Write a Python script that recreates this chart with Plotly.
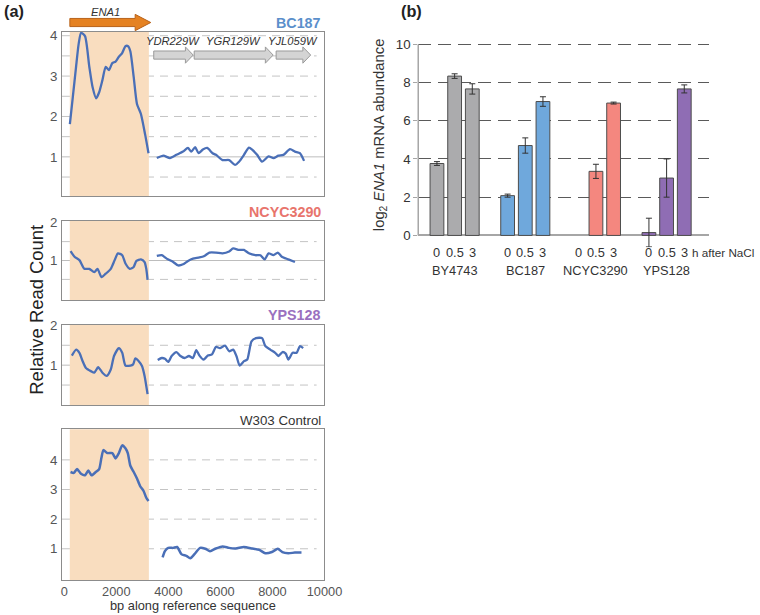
import plotly.graph_objects as go

W, H = 760, 615
FONT = "Liberation Sans, Arial, sans-serif"

# ---------------- Panel (a) data: relative read counts along reference ----------------
bc187_bp = [213, 326, 451, 554, 643, 795, 960, 1085, 1224, 1339, 1464, 1591, 1717, 1843, 1970,
            2096, 2222, 2349, 2451, 2539, 2666, 2792, 2944, 3107, 3236, None,
            3555, 3810, 4060, 4310, 4565, 4750, 4880, 5030, 5160, 5325, 5490, 5700, 5830, 6080,
            6335, 6560, 6715, 6905, 7095, 7220, 7410, 7600, 7850, 8040, 8230, 8420, 8675, 8865,
            9055, 9215]
bc187_val = [1.81, 2.48, 3.23, 3.81, 4.07, 3.99, 3.23, 2.73, 2.45, 2.60, 2.90, 3.23, 3.15, 3.32, 3.36,
             3.48, 3.57, 3.74, 3.74, 3.61, 2.98, 2.31, 2.06, 1.55, 1.09, None,
             0.97, 1.03, 0.97, 1.05, 1.13, 1.22, 1.13, 1.24, 1.09, 1.18, 1.22, 1.09, 1.05, 0.92,
             0.92, 0.80, 0.88, 1.05, 1.23, 1.18, 1.05, 0.88, 1.01, 0.97, 1.03, 1.05, 1.19, 1.13,
             1.09, 0.90]

ncyc_bp = [240, 392, 580, 770, 960, 1150, 1275, 1430, 1590, 1785, 1935, 2060, 2225, 2350, 2515,
           2665, 2770, 2945, 3085, 3150, 3200, None,
           3555, 3745, 3935, 4185, 4375, 4565, 4755, 4945, 5195, 5385, 5575, 5830, 6080, 6335,
           6490, 6715, 6905, 7095, 7345, 7535, 7700, 7850, 8040, 8205, 8360, 8610, 8865]
ncyc_val = [1.25, 1.10, 1.01, 0.78, 0.78, 0.69, 0.78, 0.56, 0.65, 0.78, 1.01, 1.19, 1.14, 0.92, 0.78,
            0.83, 0.99, 1.03, 0.96, 0.78, 0.49, None,
            1.12, 1.14, 1.05, 0.96, 0.87, 0.90, 0.99, 1.05, 1.08, 1.12, 1.21, 1.21, 1.19, 1.24,
            1.32, 1.28, 1.28, 1.19, 1.14, 1.14, 1.03, 1.19, 1.14, 1.21, 1.10, 1.03, 0.96]

yps_bp = [290, 455, 580, 705, 830, 1020, 1150, 1300, 1465, 1630, 1785, 1910, 2095, 2225, 2350,
          2540, 2645, 2730, 2860, 2985, 3085, 3200, None,
          3590, 3745, 3870, 3995, 4125, 4310, 4465, 4625, 4790, 4945, 5070, 5195, 5350, 5515,
          5675, 5830, 5980, 6180, 6335, 6490, 6615, 6740, 6905, 7030, 7195, 7370, 7600, 7725,
          7915, 8105, 8230, 8385, 8510, 8610, 8775, 8930, 9055, 9180]
yps_val = [1.24, 1.39, 1.31, 1.10, 0.93, 0.85, 0.81, 0.95, 0.81, 0.73, 0.89, 1.23, 1.43, 1.31, 0.99,
           0.99, 1.02, 1.17, 1.10, 0.98, 0.73, 0.27, None,
           1.13, 1.18, 1.16, 1.08, 1.23, 1.33, 1.23, 1.18, 1.23, 1.18, 1.38, 1.24, 1.14, 1.24,
           1.27, 1.46, 1.43, 1.49, 1.35, 1.39, 1.23, 0.99, 1.10, 1.14, 1.60, 1.68, 1.68, 1.48,
           1.39, 1.31, 1.23, 1.33, 1.29, 1.14, 1.31, 1.31, 1.48, 1.43]

w303_bp = [239, 364, 489, 641, 793, 922, 1047, 1210, 1339, 1426, 1502, 1654, 1844, 1969, 2098,
           2223, 2348, 2439, 2538, 2667, 2792, 2917, 3046, 3145, 3236, None,
           3778, 3866, 3995, 4184, 4336, 4499, 4689, 4841, 5004, 5220, 5421, 5599, 5827, 6081,
           6332, 6586, 6901, 7220, 7496, 7724, 7978, 8206, 8380, 8608, 8862, 9116]
w303_val = [3.59, 3.56, 3.69, 3.53, 3.48, 3.64, 3.48, 3.59, 3.69, 4.07, 4.33, 4.23, 4.23, 4.05, 4.23,
            4.49, 4.39, 4.23, 3.80, 3.59, 3.37, 3.11, 2.95, 2.73, 2.61, None,
            0.71, 0.92, 1.03, 1.03, 1.06, 0.82, 0.76, 0.68, 0.82, 1.03, 1.00, 0.92, 1.01, 1.08,
            1.03, 1.01, 1.06, 1.01, 0.96, 0.85, 0.89, 1.00, 0.89, 0.85, 0.87, 0.87]

strain_names_a = ["BC187", "NCYC3290", "YPS128", "W303 Control"]
strain_colors_a = ["#5B8FCB", "#E8746C", "#9A70C0", "#333333"]

ena1_region = [210, 3250]          # shaded ENA1 locus (bp)
gene_names = ["ENA1", "YDR229W", "YGR129W", "YJL059W"]
gene_starts = [212, 3437, 4992, 8141]
gene_ends = [3323, 4954, 8027, 9469]

x_ticks_a = [0, 2000, 4000, 6000, 8000, 10000]
x_ticktext_a = ["0", "2000", "4000", "6000", "8000", "10000"]

# ---------------- Panel (b) data: log2 ENA1 mRNA abundance ----------------
strains_b = ["BY4743", "BC187", "NCYC3290", "YPS128"]
times_b = ["0", "0.5", "3"]
by4743_mean = [3.76, 8.33, 7.66]
by4743_err = [0.10, 0.12, 0.27]
bc187_mean = [2.08, 4.70, 7.00]
bc187_err = [0.08, 0.40, 0.25]
ncyc3290_mean = [None, 3.35, 6.92]
ncyc3290_err = [0, 0.37, 0.05]
yps128_mean = [0.15, 3.00, 7.66]
yps128_err = [0.75, 1.00, 0.21]
bar_colors = ["#ABABAD", "#6FA8DC", "#F4877F", "#8F6DB4"]
y_ticks_b = [0, 2, 4, 6, 8, 10]

# mapping from target picture pixels to paper fractions (compensates page framing)
OX, SX, OY, SY = 2.2, 0.988, 7.75, 0.972


def fx(p):
    return (p - OX) / SX / W


def fy(p):
    return 1 - (p - OY) / SY / H


def fs(s):
    return round(s / 0.98, 1)


fig = go.Figure()

# ---- panel (a) layout geometry (pixels) ----
xdom_a = [fx(64), fx(330)]
panels = [  # (top px, bottom px, y range, tick values, tick text, dashed grid values, solid line at 1)
    (32, 194, [0.02, 4.1], [1, 2, 3, 4], ["1", "2", "3", "4"], [0.5, 1.5, 2, 2.5, 3, 3.5, 4], True),
    (218, 296, [-0.05, 2.05], [1, 2], ["1", "2"], [0.5, 1.5], True),
    (320, 399, [0.0, 2.02], [1, 2], ["1", "2"], [0.5, 1.5], True),
    (423, 571, [-0.05, 5.03], [1, 2, 3, 4], ["1", "2", "3", "4"], [1, 2, 3, 4], False),
]
series = [(bc187_bp, bc187_val), (ncyc_bp, ncyc_val), (yps_bp, yps_val), (w303_bp, w303_val)]

line_blue = "#4A6FB7"
for i, (bp, val) in enumerate(series):
    sfx = "" if i == 0 else str(i + 1)
    fig.add_trace(go.Scatter(
        x=bp, y=val, mode="lines", xaxis="x" + sfx, yaxis="y" + sfx,
        line=dict(color=line_blue, width=2.5 if i == 3 else 2.3, shape="spline", smoothing=0.6),
        connectgaps=False, showlegend=False, hoverinfo="skip"))

layout = dict(
    width=W, height=H, autosize=False,
    margin=dict(l=0, r=0, t=0, b=0),
    paper_bgcolor="white", plot_bgcolor="white",
    font=dict(family=FONT, color="#333333"),
    showlegend=False,
)

shapes = []
annotations = []
for i, (top, bot, yr, tv, tt, grid_vals, solid1) in enumerate(panels):
    sfx = "" if i == 0 else str(i + 1)
    xa = dict(domain=xdom_a, range=[-90, 10000], anchor="y" + sfx,
              showline=True, mirror=True, linecolor="#8c8c8c", linewidth=1,
              showgrid=False, zeroline=False, ticks="", showticklabels=False)
    if i == 3:
        xa.update(showticklabels=True, tickvals=x_ticks_a, ticktext=x_ticktext_a,
                  tickfont=dict(size=fs(12.5), color="#555555", family=FONT))
    ya = dict(domain=[fy(bot), fy(top)], range=yr, anchor="x" + sfx,
              showline=True, mirror=True, linecolor="#8c8c8c", linewidth=1,
              tickvals=tv, ticktext=tt, ticks="outside", ticklen=1, tickcolor="rgba(0,0,0,0)",
              tickfont=dict(size=fs(13), color="#555555", family=FONT),
              showgrid=False, zeroline=False)
    layout["xaxis" + sfx] = xa
    layout["yaxis" + sfx] = ya
    # dashed gridlines (drawn first, then covered by the shaded ENA1 region)
    for gv in grid_vals:
        shapes.append(dict(type="line", xref="x" + sfx + " domain", yref="y" + sfx,
                           x0=0, x1=0.97, y0=gv, y1=gv, layer="below",
                           line=dict(color="#C4C4C4", width=1, dash="8px,6px")))
    if solid1:
        shapes.append(dict(type="line", xref="x" + sfx + " domain", yref="y" + sfx,
                           x0=0, x1=1, y0=1, y1=1, layer="below",
                           line=dict(color="#BDBDBD", width=1)))
    # shaded ENA1 region
    shapes.append(dict(type="rect", xref="x" + sfx, yref="y" + sfx + " domain",
                       x0=ena1_region[0], x1=ena1_region[1], y0=0, y1=1,
                       fillcolor="#F9DDBF", line=dict(width=0), layer="below"))
    # strain label
    annotations.append(dict(text=strain_names_a[i] if i == 3 else f"<b>{strain_names_a[i]}</b>",
                            xref="paper", yref="paper",
                            x=fx(328), y=fy(top - 9),
                            xanchor="right", yanchor="middle", showarrow=False,
                            font=dict(size=fs(14) if i < 3 else fs(13), color=strain_colors_a[i],
                                      family=FONT)))

# gene arrows
gene_geom = [  # (body top px, body bottom px, head top px, head bottom px, head length bp, fill, outline)
    (19, 27, 15, 31, 600, "#E58222", "#B8621A"),
    (51, 59, 47, 63, 300, "#D4D4D4", "#9A9A9A"),
    (51, 59, 47, 63, 300, "#D4D4D4", "#9A9A9A"),
    (51, 59, 47, 63, 300, "#D4D4D4", "#9A9A9A"),
]
for name, s, e, (bt, bb, ht, hb, hl, fc, lc) in zip(gene_names, gene_starts, gene_ends, gene_geom):
    hs = e - hl
    yc = (bt + bb) / 2
    path = (f"M {s},{fy(bt)} L {hs},{fy(bt)} L {hs},{fy(ht)} L {e},{fy(yc)} "
            f"L {hs},{fy(hb)} L {hs},{fy(bb)} L {s},{fy(bb)} Z")
    shapes.append(dict(type="path", xref="x", yref="paper", path=path,
                       fillcolor=fc, line=dict(color=lc, width=1), layer="above"))
    annotations.append(dict(text=f"<i>{name}</i>", xref="x", yref="paper",
                            x=(s + e) / 2 if name != "ENA1" else (s + e) / 2 - 200,
                            y=fy(ht - 6 if name != "ENA1" else 13),
                            showarrow=False, xanchor="center", yanchor="middle",
                            font=dict(size=fs(11), color="#333333", family=FONT)))

annotations.append(dict(text="bp along reference sequence", xref="paper", yref="paper",
                        x=fx((64 + 330) / 2), y=0, showarrow=False,
                        xanchor="center", yanchor="bottom", yshift=0,
                        font=dict(size=fs(12.5), color="#333333", family=FONT)))
annotations.append(dict(text="Relative Read Count", xref="paper", yref="paper",
                        x=fx(38), y=fy(305), textangle=-90, showarrow=False,
                        xanchor="center", yanchor="middle",
                        font=dict(size=fs(18), color="#222222", family=FONT)))
annotations.append(dict(text="<b>(a)</b>", xref="paper", yref="paper", x=fx(3), y=fy(12),
                        xanchor="left", yanchor="middle", showarrow=False,
                        font=dict(size=fs(16), color="#222222", family=FONT)))
annotations.append(dict(text="<b>(b)</b>", xref="paper", yref="paper", x=fx(405), y=fy(12),
                        xanchor="left", yanchor="middle", showarrow=False,
                        font=dict(size=fs(16), color="#222222", family=FONT)))

# ---- panel (b) ----
means = [by4743_mean, bc187_mean, ncyc3290_mean, yps128_mean]
errs = [by4743_err, bc187_err, ncyc3290_err, yps128_err]
positions_all = []
for g, (m, e, c) in enumerate(zip(means, errs, bar_colors)):
    pos = [4 * g + t for t in range(len(times_b))]
    positions_all += pos
    fig.add_trace(go.Bar(
        x=pos, y=m, xaxis="x5", yaxis="y5", width=0.78,
        marker=dict(color=c, line=dict(color="#4d4d4d", width=1)),
        error_y=dict(type="data", array=e, color="#333333", thickness=1, width=3),
        cliponaxis=False, showlegend=False, hoverinfo="skip"))
    annotations.append(dict(text=strains_b[g], xref="x5", yref="paper", x=4 * g + 1, y=fy(267),
                            showarrow=False, xanchor="center", yanchor="middle",
                            font=dict(size=fs(12.5), color="#333333", family=FONT)))
    for p, t in zip(pos, times_b):
        annotations.append(dict(text=t, xref="x5", yref="paper", x=p, y=fy(249),
                                showarrow=False, xanchor="center", yanchor="middle",
                                font=dict(size=fs(12.5), color="#333333", family=FONT)))

annotations.append(dict(text="h after NaCl", xref="x5", yref="paper", x=positions_all[-1],
                        xshift=6, y=fy(249), showarrow=False, xanchor="left", yanchor="middle",
                        font=dict(size=fs(11.5), color="#333333", family=FONT)))
annotations.append(dict(text="log<sub>2</sub> <i>ENA1</i> mRNA abundance", xref="paper", yref="paper",
                        x=fx(387), y=fy(133), textangle=-90, showarrow=False,
                        xanchor="center", yanchor="middle",
                        font=dict(size=fs(14.5), color="#333333", family=FONT)))

layout["xaxis5"] = dict(domain=[fx(425), fx(720)], range=[-1.06, 15.42], anchor="y5",
                        showticklabels=False, ticks="", showline=False, showgrid=False,
                        zeroline=False)
layout["yaxis5"] = dict(domain=[fy(244), fy(37.7)], range=[-0.62, 10.35], anchor="x5",
                        tickvals=y_ticks_b, ticks="outside", ticklen=4,
                        tickcolor="#A6A6A6", showline=False,
                        showgrid=True, gridcolor="#5A5A5A", gridwidth=1, griddash="13px,7px",
                        zeroline=True, zerolinecolor="#A6A6A6", zerolinewidth=1.5,
                        tickfont=dict(size=fs(13), color="#333333", family=FONT))
shapes.append(dict(type="line", xref="x5 domain", yref="y5", x0=0, x1=0, y0=0, y1=10,
                   line=dict(color="#A6A6A6", width=1.5), layer="above"))

layout["shapes"] = shapes
layout["annotations"] = annotations
fig.update_layout(**layout)

post = ("document.body.style.margin='0';document.body.style.overflow='hidden';")
fig.write_html("out.html", config={"displayModeBar": False}, post_script=post)
